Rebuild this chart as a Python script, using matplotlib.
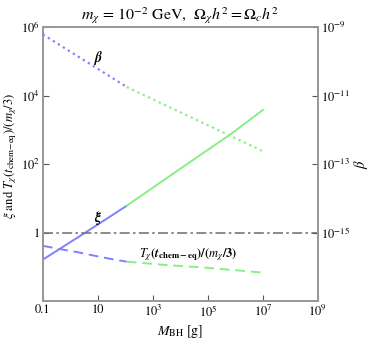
import numpy as np
import matplotlib
matplotlib.use("Agg")
import matplotlib.pyplot as plt

plt.rcParams['font.family'] = ['STIXGeneral', 'DejaVu Serif']
plt.rcParams['mathtext.fontset'] = 'stix'

# values (log10 of M_BH in g, log10 of the quantity)
# beta (right axis), dotted
beta_logM_lo = [-1.0, 2.05]
beta_log_lo = [-9.22, -10.75]
beta_logM_hi = [2.05, 7.0]
beta_log_hi = [-10.75, -12.62]

# xi, solid
xi_logM_lo = [-1.0, 0.53, 2.05]
xi_log_lo = [-0.78, 0.0, 0.79]
xi_logM_hi = [2.05, 4.0, 5.84, 7.0]
xi_log_hi = [0.79, 1.87, 2.88, 3.58]

# T_chi(t_chem-eq)/(m_chi/3), dashed
T_logM_lo = [-1.0, -0.6, -0.2, 0.3, 0.71, 1.2, 1.6, 2.05]
T_log_lo = [-0.38, -0.44, -0.50, -0.57, -0.64, -0.72, -0.78, -0.84]
T_logM_hi = [2.05, 3.5, 4.82, 6.0, 7.0]
T_log_hi = [-0.84, -0.94, -1.01, -1.09, -1.16]

xticks = [0.1, 10, 1e3, 1e5, 1e7, 1e9]
xticklabels = ['0.1', '10', r'$10^3$', r'$10^5$', r'$10^7$', r'$10^9$']
yticks = [1, 1e2, 1e4, 1e6]
yticklabels = ['1', r'$10^2$', r'$10^4$', r'$10^6$']
beta_ticks = [1e-15, 1e-13, 1e-11, 1e-9]
beta_ticklabels = [r'$10^{-15}$', r'$10^{-13}$', r'$10^{-11}$', r'$10^{-9}$']

blue = '#8080ff'
green = '#86f086'
frame = '#999999'

fig = plt.figure(figsize=(3.7, 3.41), dpi=100)
ax = fig.add_axes([0.116, 0.116, 0.743, 0.805])
ax2 = ax.twinx()

p = lambda a: 10 ** np.array(a)

# beta on the right axis
ax2.plot(p(beta_logM_lo), p(beta_log_lo), ':', color=blue, lw=1.6)
ax2.plot(p(beta_logM_hi), p(beta_log_hi), ':', color=green, lw=1.6)

ax.plot(p(xi_logM_lo), p(xi_log_lo), '-', color=blue, lw=1.4)
ax.plot(p(xi_logM_hi), p(xi_log_hi), '-', color=green, lw=1.4)
ax.plot(p(T_logM_lo), p(T_log_lo), '--', color=blue, lw=1.4, dashes=(5, 3))
ax.plot(p(T_logM_hi), p(T_log_hi), '--', color=green, lw=1.4, dashes=(5, 3))
ax.axhline(1, color='#777777', lw=1.2, ls=(0, (6, 2, 1.5, 2)))

ax.set_xscale('log')
ax.set_yscale('log')
ax2.set_yscale('log')
ax.set_xlim(0.1, 1e9)
ax.set_ylim(1e-2, 1e6)
ax2.set_ylim(1e-17, 1e-9)

ax.set_xticks(xticks)
ax.set_xticklabels(xticklabels)
ax.set_yticks(yticks)
ax.set_yticklabels(yticklabels)
ax2.set_yticks(beta_ticks)
ax2.set_yticklabels(beta_ticklabels)
ax.minorticks_off()
ax2.minorticks_off()

for a in (ax, ax2):
    for s in a.spines.values():
        s.set_color(frame)
        s.set_linewidth(1.3)
    a.tick_params(direction='in', length=4, width=0.8, color='#555555',
                  labelsize=9, pad=2)

ax.text(10, 10 ** 5.1, r'$\boldsymbol{\beta}$', fontsize=10, ha='center', va='center')
ax.text(10, 10 ** 0.44, r'$\boldsymbol{\xi}$', fontsize=10, ha='center', va='center')
ax.text(10 ** 4.28, 10 ** -0.64,
        r'$\boldsymbol{T_\chi}\mathbf{(}\boldsymbol{t}_{\mathbf{chem-eq}}\mathbf{)/(}'
        r'\boldsymbol{m_\chi}\mathbf{/3)}$',
        fontsize=9, ha='center', va='center')

ax.set_title(r'$m_\chi$ = 10$^{-2}$ GeV,  $\Omega_\chi h^2 = \Omega_c h^2$',
             fontsize=11.5, pad=5)
ax.set_xlabel(r'$M_{\rm BH}$ [g]', fontsize=10, labelpad=2)
ax.set_ylabel(r'$\xi$ and $T_\chi(t_{\rm chem\!-\!eq})/(m_\chi/3)$', fontsize=9.2,
              labelpad=1)
ax.yaxis.set_label_coords(-0.088, 0.53)
ax2.set_ylabel(r'$\beta$', fontsize=10.5, labelpad=2)

fig.savefig('out.png', dpi=100)
